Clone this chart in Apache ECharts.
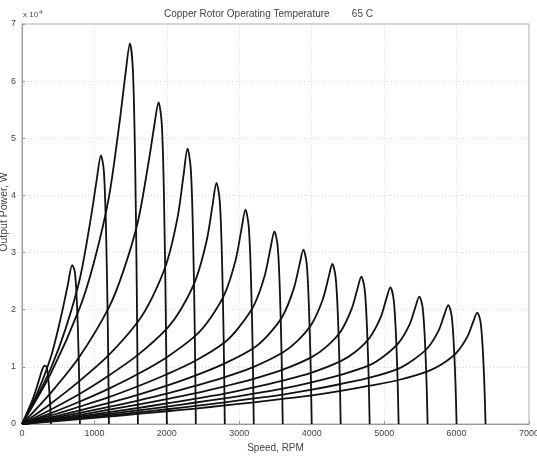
<!DOCTYPE html>
<html>
<head>
<meta charset="utf-8">
<script src="https://cdn.jsdelivr.net/npm/echarts@6/dist/echarts.min.js"></script>
<style>
html,body{margin:0;padding:0;background:#fff;}
#chart{width:537px;height:458px;}
</style>
</head>
<body>
<div id="chart"></div>
<script>
// Speed (RPM) and output power (in units of 1e4 W)
const titleText = 'Copper Rotor Operating Temperature        65 C';
const yName = 'Output Power, W';
const xTicks = [0, 1000, 2000, 3000, 4000, 5000, 6000, 7000];
const yTicks = [0, 1, 2, 3, 4, 5, 6, 7];

const curve400 = [[0,0],[150,0.44],[230,0.75],[285,0.97],[315,1.02],[340,0.99],[360,0.83],[385,0.43],[400,0]];
const curve800 = [[0,0],[200,0.51],[400,1.18],[550,1.94],[630,2.42],[694,2.78],[730,2.66],[760,2.07],[785,1.04],[800,0]];
const curve1200 = [[0,0],[200,0.46],[400,0.98],[600,1.66],[800,2.55],[950,3.60],[1030,4.26],[1090,4.70],[1130,4.43],[1160,3.40],[1185,1.69],[1200,0]];
const curve1600 = [[0,0],[400,0.89],[800,2.04],[1000,2.86],[1200,3.97],[1350,5.31],[1430,6.14],[1490,6.66],[1530,6.22],[1560,4.74],[1585,2.34],[1600,0]];
const curve2000 = [[0,0],[400,0.55],[800,1.19],[1200,2.04],[1400,2.68],[1600,3.54],[1750,4.60],[1830,5.25],[1885,5.63],[1930,5.25],[1960,3.98],[1985,1.96],[2000,0]];
const curve2400 = [[0,0],[400,0.36],[800,0.76],[1200,1.21],[1600,1.79],[1800,2.22],[2000,2.83],[2150,3.63],[2230,4.35],[2285,4.82],[2330,4.47],[2360,3.38],[2385,1.66],[2400,0]];
const curve2800 = [[0,0],[400,0.255],[800,0.53],[1200,0.85],[1600,1.21],[2000,1.67],[2200,2.02],[2400,2.53],[2550,3.21],[2630,3.82],[2685,4.22],[2730,3.91],[2760,2.95],[2785,1.44],[2800,0]];
const curve3200 = [[0,0],[400,0.19],[800,0.394],[1200,0.62],[1600,0.875],[2000,1.17],[2400,1.55],[2600,1.85],[2800,2.28],[2950,2.87],[3030,3.41],[3085,3.75],[3130,3.46],[3160,2.61],[3185,1.28],[3200,0]];
const curve3600 = [[0,0],[400,0.149],[800,0.306],[1200,0.47],[1600,0.66],[2000,0.87],[2400,1.11],[2800,1.43],[3000,1.70],[3200,2.07],[3350,2.59],[3430,3.07],[3485,3.37],[3530,3.11],[3560,2.34],[3585,1.14],[3600,0]];
const curve4000 = [[0,0],[400,0.118],[800,0.24],[1200,0.37],[1600,0.51],[2000,0.67],[2400,0.85],[2800,1.06],[3200,1.33],[3400,1.56],[3600,1.89],[3750,2.36],[3830,2.78],[3885,3.05],[3930,2.81],[3960,2.11],[3985,1.03],[4000,0]];
const curve4400 = [[0,0],[400,0.095],[800,0.196],[1200,0.30],[1600,0.41],[2000,0.53],[2400,0.67],[2800,0.82],[3200,1.00],[3600,1.25],[3800,1.45],[4000,1.75],[4150,2.17],[4230,2.55],[4285,2.80],[4330,2.57],[4360,1.94],[4385,0.94],[4400,0]];
const curve4800 = [[0,0],[400,0.079],[800,0.16],[1200,0.25],[1600,0.34],[2000,0.435],[2400,0.54],[2800,0.66],[3200,0.79],[3600,0.95],[4000,1.17],[4200,1.35],[4400,1.62],[4550,2.01],[4630,2.36],[4685,2.58],[4730,2.37],[4760,1.78],[4785,0.87],[4800,0]];
const curve5200 = [[0,0],[400,0.067],[800,0.135],[1200,0.206],[1600,0.28],[2000,0.36],[2400,0.445],[2800,0.53],[3200,0.64],[3600,0.76],[4000,0.90],[4400,1.10],[4600,1.26],[4800,1.51],[4950,1.86],[5030,2.19],[5085,2.39],[5130,2.19],[5160,1.65],[5185,0.80],[5200,0]];
const curve5600 = [[0,0],[400,0.057],[800,0.115],[1200,0.176],[1600,0.237],[2000,0.305],[2400,0.376],[2800,0.45],[3200,0.53],[3600,0.62],[4000,0.73],[4400,0.86],[4800,1.03],[5000,1.19],[5200,1.42],[5350,1.74],[5430,2.04],[5485,2.23],[5530,2.05],[5560,1.54],[5585,0.75],[5600,0]];
const curve6000 = [[0,0],[400,0.049],[800,0.099],[1200,0.15],[1600,0.204],[2000,0.258],[2400,0.318],[2800,0.38],[3200,0.447],[3600,0.515],[4000,0.60],[4400,0.70],[4800,0.81],[5200,0.97],[5400,1.12],[5600,1.33],[5750,1.63],[5830,1.91],[5885,2.08],[5930,1.91],[5960,1.43],[5985,0.70],[6000,0]];
const curve6400 = [[0,0],[400,0.043],[800,0.087],[1200,0.13],[1600,0.176],[2000,0.223],[2400,0.27],[2800,0.326],[3200,0.38],[3600,0.44],[4000,0.50],[4400,0.58],[4800,0.67],[5200,0.77],[5600,0.92],[5800,1.05],[6000,1.25],[6150,1.53],[6230,1.79],[6285,1.95],[6330,1.79],[6360,1.34],[6385,0.65],[6400,0]];

const curveList = [curve400, curve800, curve1200, curve1600, curve2000, curve2400, curve2800, curve3200,
  curve3600, curve4000, curve4400, curve4800, curve5200, curve5600, curve6000, curve6400];

const chart = echarts.init(document.getElementById('chart'), null, {renderer: 'canvas'});
const FONT = 'Liberation Sans, Arial, sans-serif';
const labelFont = {fontFamily: FONT, fontSize: 9, color: '#444'};

chart.setOption({
  animation: false,
  backgroundColor: '#fff',
  title: {
    text: titleText,
    left: 'center',
    top: 4,
    textStyle: {fontFamily: FONT, fontSize: 10, fontWeight: 'normal', color: '#444'}
  },
  grid: {left: 22, right: 8, top: 24, bottom: 34, containLabel: false, outerBoundsMode: 'none',
         show: true, borderColor: '#aaa', borderWidth: 1},
  xAxis: {
    type: 'value', min: xTicks[0], max: xTicks[xTicks.length - 1], interval: 1000,
    name: 'Speed, RPM', nameLocation: 'middle', nameGap: 17,
    nameTextStyle: {fontFamily: FONT, fontSize: 10, color: '#444'},
    axisLine: {lineStyle: {color: '#999'}},
    axisTick: {inside: true, length: 3, lineStyle: {color: '#999'}},
    axisLabel: Object.assign({margin: 5, formatter: function (v) { return String(v); }}, labelFont),
    splitLine: {show: true, lineStyle: {color: '#ddd', type: [1, 2], width: 1}}
  },
  yAxis: {
    type: 'value', min: yTicks[0], max: yTicks[yTicks.length - 1], interval: 1,
    axisLine: {show: true, lineStyle: {color: '#999'}},
    axisTick: {show: true, inside: true, length: 3, lineStyle: {color: '#999'}},
    axisLabel: Object.assign({margin: 6, formatter: function (v) { return String(v); }}, labelFont),
    splitLine: {show: true, lineStyle: {color: '#ddd', type: [1, 2], width: 1}}
  },
  graphic: [{
    type: 'text', left: 23, top: 9,
    style: {
      text: '{a|x 10}{b|4}',
      rich: {
        a: {fontFamily: FONT, fontSize: 8, fill: '#444'},
        b: {fontFamily: FONT, fontSize: 6, fill: '#444', verticalAlign: 'top', padding: [0, 0, 6, 1]}
      }
    }
  }, {
    type: 'text', x: 10, y: 212, rotation: Math.PI / 2,
    style: {
      text: yName, fontFamily: FONT, fontSize: 10.5, fill: '#444',
      align: 'center', verticalAlign: 'bottom'
    }
  }],
  series: curveList.map(function (c) {
    return {
      type: 'line', data: c, showSymbol: false, smooth: 0.3,
      lineStyle: {color: '#111', width: 1.8}, z: 3
    };
  })
});
</script>
</body>
</html>
